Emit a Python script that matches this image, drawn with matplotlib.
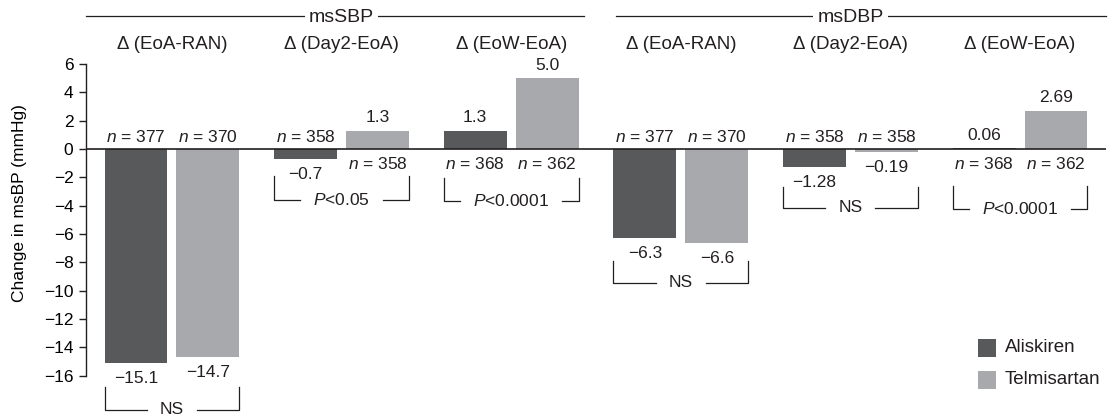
import matplotlib
matplotlib.use('Agg')
import matplotlib.pyplot as plt
from matplotlib.patches import Rectangle
import numpy as np

# ---- data ----
measures = ['msSBP', 'msDBP']
intervals = ['Δ (EoA-RAN)', 'Δ (Day2-EoA)', 'Δ (EoW-EoA)']
series_names = ['Aliskiren', 'Telmisartan']
aliskiren = [-15.1, -0.7, 1.3, -6.3, -1.28, 0.06]
telmisartan = [-14.7, 1.3, 5.0, -6.6, -0.19, 2.69]
decimals = [1, 1, 1, 1, 2, 2]
n_aliskiren = [377, 358, 368, 377, 358, 368]
n_telmisartan = [370, 358, 362, 370, 358, 362]
p_labels = ['NS', '$P$<0.05', '$P$<0.0001', 'NS', 'NS', '$P$<0.0001']
yticks = list(range(-16, 7, 2))

# ---- layout / style ----
colors = ['#58595b', '#a7a9ac']
bracket_top = [-16.8, -1.9, -2.05, -7.9, -2.7, -2.6]
bracket_bot = [-18.4, -3.6, -3.7, -9.45, -4.15, -4.25]

plt.rcParams['font.family'] = ['Liberation Sans', 'DejaVu Sans']
plt.rcParams['mathtext.fontset'] = 'custom'
plt.rcParams['mathtext.rm'] = 'Liberation Sans'
plt.rcParams['mathtext.it'] = 'Liberation Sans:italic'
plt.rcParams['text.color'] = '#231f20'

W, H = 1114, 418
fig = plt.figure(figsize=(W / 100, H / 100), dpi=100)
ax = fig.add_axes([86 / W, 42.3 / H, 1020 / W, 311.7 / H])

x = np.arange(len(aliskiren))
w = 0.371
off = 0.212
vals = [aliskiren, telmisartan]
ns = [n_aliskiren, n_telmisartan]
FS = 12.5

for k in range(2):
    xs = x + (2 * k - 1) * off
    ax.bar(xs, vals[k], width=w, color=colors[k], label=series_names[k], zorder=2)
    for xi, v, d, n in zip(xs, vals[k], decimals, ns[k]):
        s = f'{v:.{d}f}'.replace('-', '\u2212')
        if v >= 0:
            ax.annotate(s, (xi, v), xytext=(0, 13), textcoords='offset pixels',
                        ha='center', va='center', fontsize=FS)
            ax.annotate(f'$n$ = {n}', (xi, 0), xytext=(0, -15), textcoords='offset pixels',
                        ha='center', va='center', fontsize=FS)
        else:
            ax.annotate(s, (xi, v), xytext=(0, -15.5), textcoords='offset pixels',
                        ha='center', va='center', fontsize=FS)
            ax.annotate(f'$n$ = {n}', (xi, 0), xytext=(0, 12), textcoords='offset pixels',
                        ha='center', va='center', fontsize=FS)

ax.axhline(0, color='#231f20', lw=1.2, zorder=3)
ax.set_xlim(-0.507, 5.507)
ax.set_ylim(-16, 6)
ax.set_xticks([])
ax.set_yticks(yticks)
ax.set_yticklabels([str(t).replace('-', '\u2212') for t in yticks])
for sp in ['top', 'right', 'bottom']:
    ax.spines[sp].set_visible(False)
ax.spines['left'].set_linewidth(1.0)
ax.spines['left'].set_color('#231f20')
ax.tick_params(axis='y', length=5, width=1.0, labelsize=12.5, pad=4, color='#231f20')
ax.set_ylabel('Change in msBP (mmHg)', fontsize=12.5)
ax.yaxis.set_label_coords(-0.058, 0.555)

# headers
tx = ax.get_xaxis_transform()
ax.plot([-0.507, 2.428], [1.154, 1.154], transform=tx, clip_on=False, color='#231f20', lw=0.9)
ax.plot([2.616, 5.507], [1.154, 1.154], transform=tx, clip_on=False, color='#231f20', lw=0.9)
for i, m in enumerate(measures):
    ax.text(1 + 3 * i, 1.150, m, transform=tx, ha='center', va='center', fontsize=14,
            bbox=dict(facecolor='white', edgecolor='none', pad=3), zorder=5)
for i in range(len(aliskiren)):
    ax.text(i, 1.061, intervals[i % 3], transform=tx, ha='center', va='center', fontsize=13.5)

# brackets
texts = []
for i in range(len(aliskiren)):
    xl = i - off - w / 2
    xr = i + off + w / 2
    t = ax.text((xl + xr) / 2, bracket_bot[i], p_labels[i], ha='center', va='center',
                fontsize=FS, clip_on=False)
    texts.append(t)
fig.canvas.draw()
px_per_unit = ax.transData.transform((1, 0))[0] - ax.transData.transform((0, 0))[0]
for i, t in enumerate(texts):
    xl = i - off - w / 2
    xr = i + off + w / 2
    xm = (xl + xr) / 2
    half = (t.get_window_extent().width / 2 + 13) / px_per_unit
    kw = dict(color='#231f20', lw=0.9, clip_on=False)
    ax.plot([xl, xl, xm - half], [bracket_top[i], bracket_bot[i], bracket_bot[i]], **kw)
    ax.plot([xr, xr, xm + half], [bracket_top[i], bracket_bot[i], bracket_bot[i]], **kw)

# legend
for k, yc in enumerate([348, 380]):
    fig.add_artist(Rectangle((978 / W, (H - yc - 9) / H), 18 / W, 18 / H,
                             transform=fig.transFigure, facecolor=colors[k], edgecolor='none'))
    fig.text(1005 / W, (H - yc) / H, series_names[k], ha='left', va='center', fontsize=13.5)

fig.savefig('out.png', dpi=100)
